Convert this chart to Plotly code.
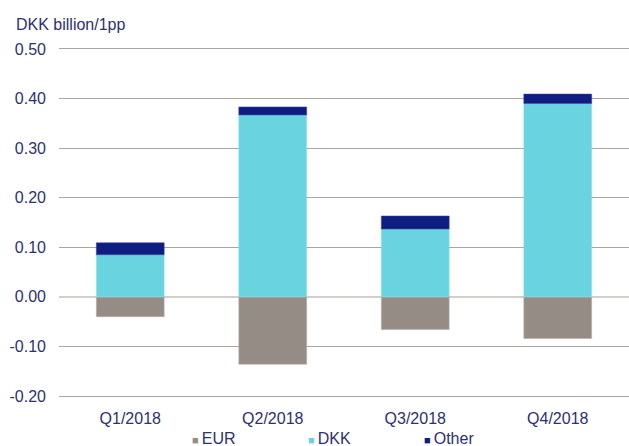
import plotly.graph_objects as go

# ---- data ----
quarters = ["Q1/2018", "Q2/2018", "Q3/2018", "Q4/2018"]
eur = [-0.040, -0.136, -0.066, -0.084]
dkk = [0.085, 0.367, 0.137, 0.390]
other = [0.024, 0.016, 0.026, 0.019]
series_names = ["EUR", "DKK", "Other"]
y_tickvals = [-0.2, -0.1, 0.0, 0.1, 0.2, 0.3, 0.4, 0.5]
y_ticktext = ["-0.20", "-0.10", "0.00", "0.10", "0.20", "0.30", "0.40", "0.50"]
unit_label = "DKK billion/1pp"

# ---- styles ----
colors = {"EUR": "#958C85", "DKK": "#69D3DF", "Other": "#0F1C80"}
edge = {"EUR": "#B7B0AB", "DKK": "#8FE0EA", "Other": "#3A45A0"}
text_color = "#2E3070"
grid_color = "#ABA5A1"
font_family = "Arial, Liberation Sans, sans-serif"

fig = go.Figure()
for name, vals in zip(series_names, [eur, dkk, other]):
    fig.add_trace(go.Bar(
        x=quarters, y=vals, name=name,
        marker=dict(color=colors[name], line=dict(color=edge[name], width=0.6)),
        width=0.476, showlegend=False,
    ))

# legend entries: small square glyph coloured like the series, right before its name
for name in series_names:
    fig.add_trace(go.Scatter(
        x=[None], y=[None], mode="markers",
        marker=dict(color="rgba(0,0,0,0)", size=1, line=dict(width=0)),
        name=f'<span style="color:{colors[name]};font-size:11px">■ </span>{name}',
        showlegend=True, hoverinfo="skip",
    ))

fig.update_layout(
    width=629, height=446,
    margin=dict(l=59, r=0, t=49, b=50, autoexpand=False),
    barmode="relative",
    plot_bgcolor="white", paper_bgcolor="white",
    font=dict(family=font_family, size=16, color=text_color),
    showlegend=True,
    legend=dict(
        orientation="h", xref="container", yref="container",
        x=152 / 629, xanchor="left", y=1 - 438 / 446, yanchor="middle",
        entrywidth=71, entrywidthmode="pixels", itemwidth=30,
        font=dict(size=16, color=text_color), bgcolor="rgba(0,0,0,0)",
        traceorder="normal",
    ),
    xaxis=dict(
        range=[-0.5, 3.5], showgrid=False, zeroline=False,
        showline=True, mirror=True, linecolor=grid_color, linewidth=1.3,
        ticks="", ticklabelstandoff=8, automargin=False,
        tickfont=dict(size=16, color=text_color),
    ),
    yaxis=dict(
        range=[-0.2, 0.5], tickvals=y_tickvals, ticktext=y_ticktext,
        showgrid=True, gridcolor=grid_color, gridwidth=1.3,
        zeroline=True, zerolinecolor="#D3CEC9", zerolinewidth=1.5,
        showline=False, ticks="", ticklabelstandoff=12, automargin=False,
        tickfont=dict(size=16, color=text_color),
    ),
    annotations=[dict(
        text=unit_label, xref="paper", yref="paper", x=(14 - 59) / 570,
        y=1 + (49 - 24) / 347, xanchor="left", yanchor="middle", showarrow=False,
        font=dict(size=16, color=text_color),
    )],
)

fig.write_html("out.html", config={"displayModeBar": False},
               post_script="document.body.style.margin='0';")
